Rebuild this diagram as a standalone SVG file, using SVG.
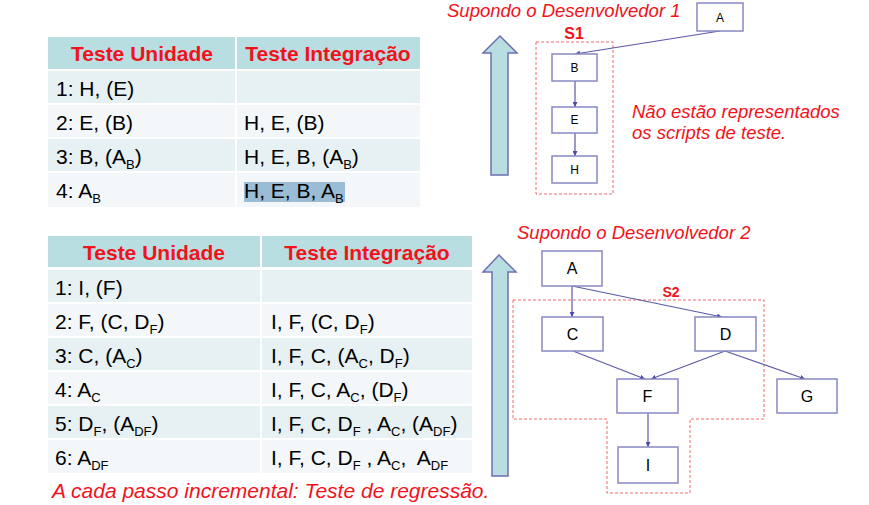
<svg xmlns="http://www.w3.org/2000/svg" width="869" height="505" viewBox="0 0 869 505">
<style>
.hdr{fill:#B9DEE2}
.ra{fill:#E7F0F2}
.rb{fill:#F3F7F9}
.ht{font-family:"Liberation Sans",Arial,sans-serif;font-size:21px;font-weight:bold;fill:#F2121B;text-anchor:middle}
.t{font-family:"Liberation Sans",Arial,sans-serif;font-size:21px;fill:#000}
.s{font-size:13px}
.note{font-family:"Liberation Sans",Arial,sans-serif;font-size:18.5px;font-style:italic;fill:#F2121B}
.box{fill:#fff;stroke:#8888C4;stroke-width:1.5}
.bt{font-family:"Liberation Sans",Arial,sans-serif;fill:#000;text-anchor:middle}
.grp{fill:none;stroke:#F26B6B;stroke-width:1;stroke-dasharray:3,2}
.gl{font-family:"Liberation Sans",Arial,sans-serif;font-weight:bold;fill:#F2121B;text-anchor:middle}
.conn{stroke:#5A5AA8;stroke-width:1.2;fill:none;marker-end:url(#ah)}
.big{fill:#B9DEE2;stroke:#6E6EB0;stroke-width:1.5}
</style>
<defs>
<marker id="ah" viewBox="0 0 10 10" refX="10" refY="5" markerWidth="5" markerHeight="5" orient="auto" markerUnits="userSpaceOnUse">
<path d="M0,0 L10,5 L0,10 z" fill="#4A4AA0"/>
</marker>
</defs>
<rect width="869" height="505" fill="#fff"/>

<!-- Top table -->
<g id="table1">
<rect class="hdr" x="48" y="37" width="187" height="32"/>
<rect class="hdr" x="237" y="37" width="183" height="32"/>
<rect class="ra" x="48" y="71" width="187" height="32"/>
<rect class="ra" x="237" y="71" width="183" height="32"/>
<rect class="rb" x="48" y="105" width="187" height="32"/>
<rect class="rb" x="237" y="105" width="183" height="32"/>
<rect class="ra" x="48" y="139" width="187" height="32"/>
<rect class="ra" x="237" y="139" width="183" height="32"/>
<rect class="rb" x="48" y="173" width="187" height="34"/>
<rect class="rb" x="237" y="173" width="183" height="34"/>
<rect x="244" y="182" width="101" height="20" fill="#9ABCD4"/>
<text class="ht" x="142" y="61">Teste Unidade</text>
<text class="ht" x="328" y="61">Teste Integração</text>
<text class="t" x="56" y="96">1: H, (E)</text>
<text class="t" x="56" y="130">2: E, (B)</text>
<text class="t" x="244" y="130">H, E, (B)</text>
<text class="t" x="56" y="164">3: B, (A<tspan class="s" dy="5">B</tspan><tspan dy="-5">)</tspan></text>
<text class="t" x="244" y="164">H, E, B, (A<tspan class="s" dy="5">B</tspan><tspan dy="-5">)</tspan></text>
<text class="t" x="56" y="198">4: A<tspan class="s" dy="5">B</tspan></text>
<text class="t" x="244" y="198">H, E, B, A<tspan class="s" dy="5">B</tspan></text>
</g>

<!-- Bottom table -->
<g id="table2">
<rect class="hdr" x="48" y="236" width="212" height="31"/>
<rect class="hdr" x="262" y="236" width="210" height="31"/>
<rect class="ra" x="48" y="270" width="212" height="32"/>
<rect class="ra" x="262" y="270" width="210" height="32"/>
<rect class="rb" x="48" y="304" width="212" height="32"/>
<rect class="rb" x="262" y="304" width="210" height="32"/>
<rect class="ra" x="48" y="338" width="212" height="32"/>
<rect class="ra" x="262" y="338" width="210" height="32"/>
<rect class="rb" x="48" y="372" width="212" height="32"/>
<rect class="rb" x="262" y="372" width="210" height="32"/>
<rect class="ra" x="48" y="406" width="212" height="32"/>
<rect class="ra" x="262" y="406" width="210" height="32"/>
<rect class="rb" x="48" y="440" width="212" height="33"/>
<rect class="rb" x="262" y="440" width="210" height="33"/>
<text class="ht" x="154" y="260">Teste Unidade</text>
<text class="ht" x="367" y="260">Teste Integração</text>
<text class="t" x="55" y="295">1: I, (F)</text>
<text class="t" x="55" y="329">2: F, (C, D<tspan class="s" dy="5">F</tspan><tspan dy="-5">)</tspan></text>
<text class="t" x="271" y="329">I, F, (C, D<tspan class="s" dy="5">F</tspan><tspan dy="-5">)</tspan></text>
<text class="t" x="55" y="363">3: C, (A<tspan class="s" dy="5">C</tspan><tspan dy="-5">)</tspan></text>
<text class="t" x="271" y="363">I, F, C, (A<tspan class="s" dy="5">C</tspan><tspan dy="-5">, D</tspan><tspan class="s" dy="5">F</tspan><tspan dy="-5">)</tspan></text>
<text class="t" x="55" y="397">4: A<tspan class="s" dy="5">C</tspan></text>
<text class="t" x="271" y="397">I, F, C, A<tspan class="s" dy="5">C</tspan><tspan dy="-5">, (D</tspan><tspan class="s" dy="5">F</tspan><tspan dy="-5">)</tspan></text>
<text class="t" x="55" y="431">5: D<tspan class="s" dy="5">F</tspan><tspan dy="-5">, (A</tspan><tspan class="s" dy="5">DF</tspan><tspan dy="-5">)</tspan></text>
<text class="t" x="271" y="431">I, F, C, D<tspan class="s" dy="5">F</tspan><tspan dy="-5"> , A</tspan><tspan class="s" dy="5">C</tspan><tspan dy="-5">, (A</tspan><tspan class="s" dy="5">DF</tspan><tspan dy="-5">)</tspan></text>
<text class="t" x="55" y="465">6: A<tspan class="s" dy="5">DF</tspan></text>
<text class="t" x="271" y="465">I, F, C, D<tspan class="s" dy="5">F</tspan><tspan dy="-5"> , A</tspan><tspan class="s" dy="5">C</tspan><tspan dy="-5">,&#160; A</tspan><tspan class="s" dy="5">DF</tspan></text>
</g>

<text class="note" x="52" y="498" style="font-size:21px">A cada passo incremental: Teste de regressão.</text>

<!-- Developer 1 -->
<text class="note" x="447" y="17">Supondo o Desenvolvedor 1</text>
<text class="note" x="632" y="118">Não estão representados</text>
<text class="note" x="632" y="139">os scripts de teste.</text>
<path id="bigarrow1" class="big" d="M500,36 L517,53 L508,53 L508,175 L491,175 L491,53 L483,53 Z"/>
<rect class="grp" x="536" y="42" width="77" height="152"/>
<text class="gl" x="574" y="39" style="font-size:16px">S1</text>

<g id="connectors1">
<line class="conn" x1="720" y1="31" x2="575" y2="54"/>
<line class="conn" x1="575" y1="81" x2="575" y2="107"/>
<line class="conn" x1="575" y1="133" x2="575" y2="156"/>
</g>
<g id="n1A"><rect class="box" x="697" y="3" width="46" height="28"/><text class="bt" x="720" y="22" font-size="12">A</text></g>
<g id="n1B"><rect class="box" x="552" y="54" width="45" height="27"/><text class="bt" x="574.5" y="72" font-size="12">B</text></g>
<g id="n1E"><rect class="box" x="552" y="107" width="45" height="26"/><text class="bt" x="574.5" y="124" font-size="12">E</text></g>
<g id="n1H"><rect class="box" x="552" y="156" width="45" height="27"/><text class="bt" x="574.5" y="174" font-size="12">H</text></g>

<!-- Developer 2 -->
<text class="note" x="517" y="239">Supondo o Desenvolvedor 2</text>
<path id="bigarrow2" class="big" d="M499,255 L516,272 L508,272 L508,476 L492,476 L492,272 L483,272 Z"/>
<path class="grp" d="M513,300 L764,300 L764,419 L690,419 L690,493 L607,493 L607,419 L513,419 Z"/>
<text class="gl" x="671" y="297" style="font-size:14px">S2</text>

<g id="connectors2">
<line class="conn" x1="572" y1="286" x2="572" y2="317"/>
<line class="conn" x1="572" y1="286" x2="722" y2="317"/>
<line class="conn" x1="573" y1="351" x2="645" y2="379"/>
<line class="conn" x1="725" y1="351" x2="651" y2="379"/>
<line class="conn" x1="725" y1="351" x2="805" y2="379"/>
<line class="conn" x1="648" y1="413" x2="648" y2="447"/>
</g>
<g id="n2A"><rect class="box" x="542" y="251" width="60" height="35"/><text class="bt" x="572" y="274" font-size="16">A</text></g>
<g id="n2C"><rect class="box" x="542" y="317" width="61" height="34"/><text class="bt" x="572.5" y="340" font-size="16">C</text></g>
<g id="n2D"><rect class="box" x="695" y="317" width="61" height="34"/><text class="bt" x="725.5" y="340" font-size="16">D</text></g>
<g id="n2F"><rect class="box" x="617" y="379" width="61" height="34"/><text class="bt" x="647.5" y="402" font-size="16">F</text></g>
<g id="n2G"><rect class="box" x="777" y="379" width="60" height="34"/><text class="bt" x="807" y="402" font-size="16">G</text></g>
<g id="n2I"><rect class="box" x="618" y="447" width="60" height="36"/><text class="bt" x="648" y="471" font-size="16">I</text></g>
</svg>
